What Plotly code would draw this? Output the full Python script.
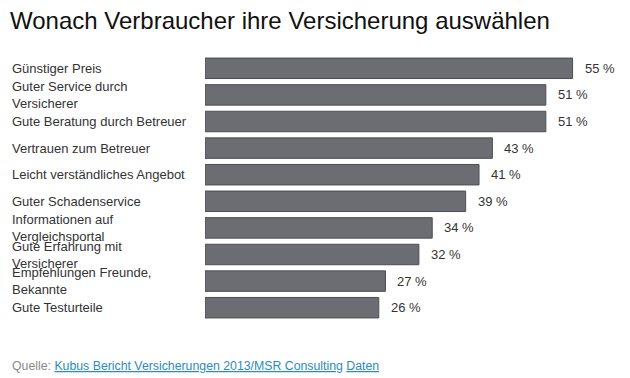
import plotly.graph_objects as go

categories = [
    "Günstiger Preis",
    "Guter Service durch<br>Versicherer",
    "Gute Beratung durch Betreuer",
    "Vertrauen zum Betreuer",
    "Leicht verständliches Angebot",
    "Guter Schadenservice",
    "Informationen auf<br>Vergleichsportal",
    "Gute Erfahrung mit<br>Versicherer",
    "Empfehlungen Freunde,<br>Bekannte",
    "Gute Testurteile",
]
values = [55, 51, 51, 43, 41, 39, 34, 32, 27, 26]
value_labels = [f"{v} %" for v in values]

FONT = "Arial, Liberation Sans, sans-serif"
W, H = 630, 378
ML, MR, MT, MB = 205, 24, 55, 57
PW = W - ML - MR
PH = H - MT - MB

fig = go.Figure()
fig.add_trace(go.Bar(
    x=values,
    y=list(range(len(categories))),
    orientation="h",
    marker=dict(color="#6c6d73", line=dict(color="#4d4e53", width=1)),
    hoverinfo="skip",
))

annotations = []
for i, c in enumerate(categories):
    annotations.append(dict(
        x=(10 - ML) / PW, xref="paper",
        y=i, yref="y",
        text=c, showarrow=False, xanchor="left", yanchor="middle",
        align="left",
        font=dict(family=FONT, size=13, color="#333333"),
    ))
for i, (v, t) in enumerate(zip(values, value_labels)):
    annotations.append(dict(
        x=v, xref="x", y=i, yref="y", text=t, showarrow=False,
        xanchor="left", yanchor="middle", xshift=10,
        font=dict(family=FONT, size=13, color="#333333"),
    ))

annotations.append(dict(
    x=(10 - ML) / PW, xref="paper", y=(MT + PH - 366) / PH, yref="paper",
    text='<span style="color:#8a8a8a">Quelle: </span>'
         '<span style="color:#2b8bc3"><u>Kubus Bericht Versicherungen 2013/MSR Consulting</u></span>'
         ' <span style="color:#2b8bc3"><u>Daten</u></span>',
    showarrow=False, xanchor="left", yanchor="middle",
    font=dict(family=FONT, size=12.3, color="#2b8bc3"),
))

fig.update_layout(
    width=W, height=H,
    margin=dict(l=ML, r=MR, t=MT, b=MB),
    paper_bgcolor="white", plot_bgcolor="white",
    showlegend=False,
    bargap=0.23,
    title=dict(
        text="Wonach Verbraucher ihre Versicherung auswählen",
        x=10 / W, xanchor="left", y=1 - 21 / H, yanchor="middle",
        font=dict(family=FONT, size=24, color="#111111"),
    ),
    xaxis=dict(range=[0, 60], visible=False, fixedrange=True),
    yaxis=dict(range=[len(categories) - 0.5, -0.5], visible=False, fixedrange=True),
    annotations=annotations,
)

fig.write_html("out.html", config={"displayModeBar": False},
               post_script="document.body.style.margin='0';")
